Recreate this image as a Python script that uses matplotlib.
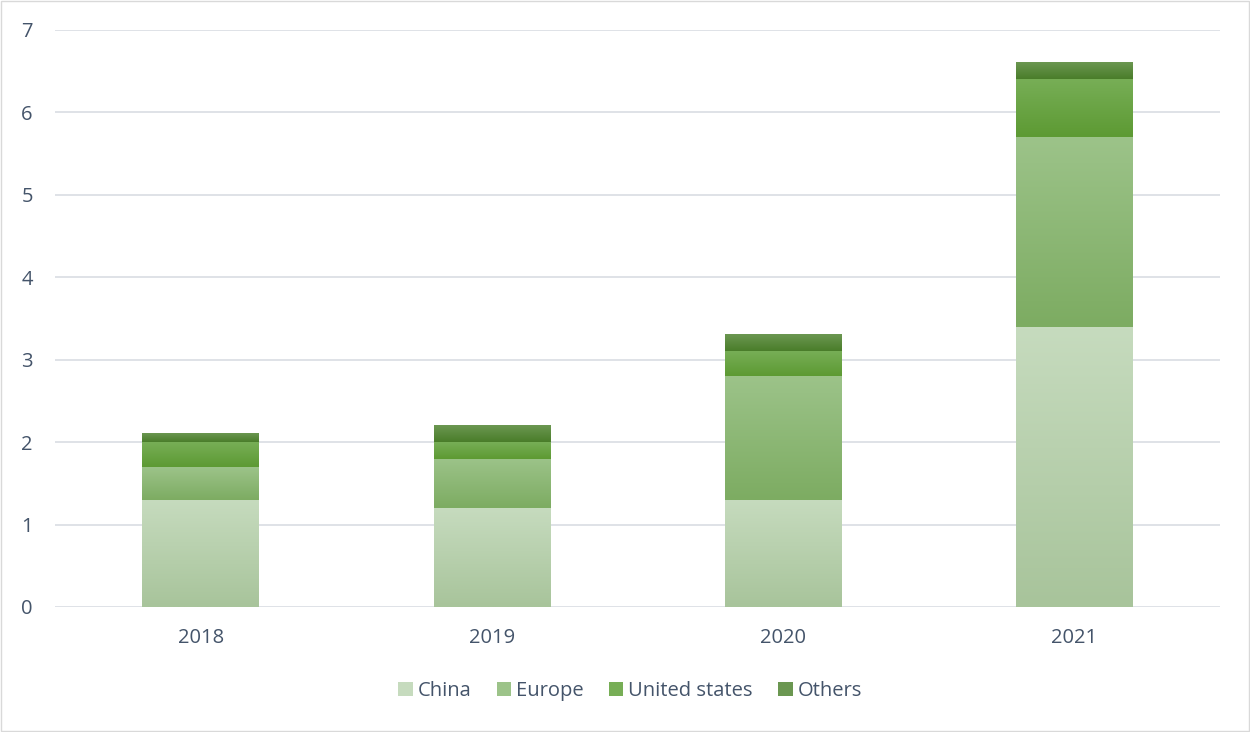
"""Stacked bars by region, 2018-2021, with Excel-style vertical gradient fills."""
import numpy as np
import matplotlib.pyplot as plt
from matplotlib.colors import LinearSegmentedColormap
from matplotlib.patches import Patch, Rectangle

years = ["2018", "2019", "2020", "2021"]
china = [1.3, 1.2, 1.3, 3.4]
europe = [0.4, 0.6, 1.5, 2.3]
united_states = [0.3, 0.2, 0.3, 0.7]
others = [0.1, 0.2, 0.2, 0.2]

series = [
    ("China", china, "#c6dbbe", "#a8c49b"),
    ("Europe", europe, "#9cc389", "#7dac62"),
    ("United states", united_states, "#77ae56", "#5d9a33"),
    ("Others", others, "#6b9751", "#4a7d2a"),
]

plt.rcParams["font.family"] = ["Open Sans", "DejaVu Sans"]
text_color = "#44546a"
grid_color = "#d9dde3"

fig = plt.figure(figsize=(12.5, 7.32), dpi=100)
ax = fig.add_axes([0.044, 0.1708, 0.932, 0.7884])

x = np.arange(len(years))
bottom = np.zeros(len(years))
handles = []
for name, vals, top_c, bot_c in series:
    vals = np.array(vals)
    bars = ax.bar(x, vals, 0.40, bottom=bottom, color="none", zorder=2)
    cmap = LinearSegmentedColormap.from_list(name, [bot_c, top_c])
    grad = np.linspace(1, 0, 64).reshape(-1, 1)
    for r in bars:
        x0, y0 = r.get_x(), r.get_y()
        ax.imshow(grad, cmap=cmap, vmin=0, vmax=1, aspect="auto", zorder=2,
                  extent=[x0, x0 + r.get_width(), y0, y0 + r.get_height()],
                  interpolation="bilinear")
    handles.append(Patch(facecolor=top_c, edgecolor="none", label=name))
    bottom += vals

ax.set_xlim(-0.5, len(years) - 0.5)
ax.set_ylim(0, 7)
ax.set_yticks(range(8))
ax.set_xticks(x, years)
ax.yaxis.grid(True, color=grid_color, linewidth=1.2, zorder=0)
ax.set_axisbelow(True)
for s in ax.spines.values():
    s.set_visible(False)
ax.tick_params(axis="both", length=0, labelsize=14.5, labelcolor=text_color)
ax.tick_params(axis="y", pad=16)
ax.tick_params(axis="x", pad=15)

fig.legend(handles=handles, loc="center", bbox_to_anchor=(0.504, 0.056), ncol=4,
           frameon=False, fontsize=14.5, labelcolor=text_color,
           handlelength=0.72, handleheight=0.72, handletextpad=0.25, columnspacing=1.25)

fig.add_artist(Rectangle((0.001, 0.001), 0.998, 0.997, transform=fig.transFigure,
                         fill=False, edgecolor="#d9d9d9", linewidth=1))

plt.savefig("out.png", dpi=100)
